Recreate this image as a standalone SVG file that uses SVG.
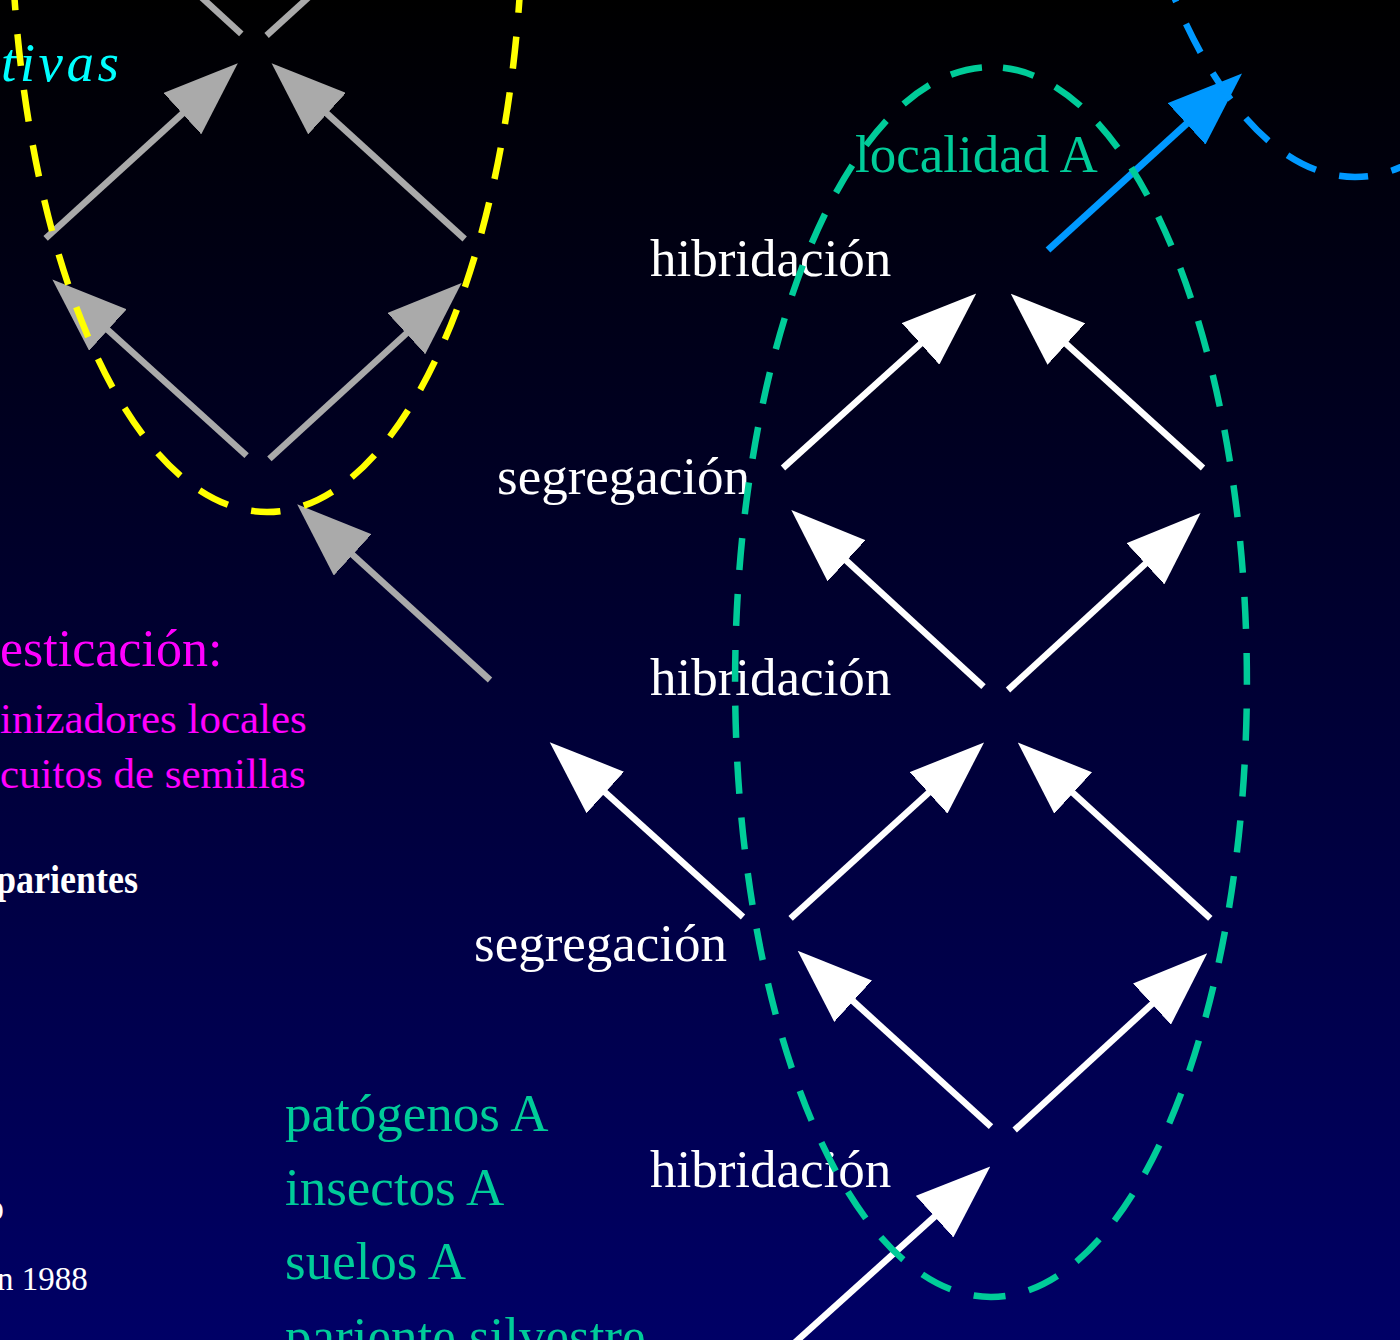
<svg xmlns="http://www.w3.org/2000/svg" width="1400" height="1340" viewBox="0 0 1400 1340">
<defs>
<linearGradient id="bg" x1="0" y1="0" x2="0" y2="1340" gradientUnits="userSpaceOnUse">
<stop offset="0" stop-color="#000000"/>
<stop offset="1" stop-color="#000066"/>
</linearGradient>
<marker id="hw" viewBox="0 -28 75 56" refX="1" refY="0" markerWidth="75" markerHeight="56" markerUnits="userSpaceOnUse" orient="auto"><path d="M0,-28 L75,0 L0,28 z" fill="#ffffff"/></marker>
<marker id="hg" viewBox="0 -28 75 56" refX="1" refY="0" markerWidth="75" markerHeight="56" markerUnits="userSpaceOnUse" orient="auto"><path d="M0,-28 L75,0 L0,28 z" fill="#aaaaaa"/></marker>
<marker id="hb" viewBox="0 -28 75 56" refX="1" refY="0" markerWidth="75" markerHeight="56" markerUnits="userSpaceOnUse" orient="auto"><path d="M0,-28 L75,0 L0,28 z" fill="#0099ff"/></marker>
<style>
.t{font-family:"Liberation Serif","Times New Roman",serif;}
.w{fill:#ffffff;}
.g{fill:#00cc99;}
.m{fill:#ff00ff;}
.lab{font-size:53px;fill:#ffffff;}
.aw{stroke:#ffffff;stroke-width:6.5;fill:none;marker-end:url(#hw);}
.ag{stroke:#aaaaaa;stroke-width:6.5;fill:none;marker-end:url(#hg);}
.agn{stroke:#aaaaaa;stroke-width:6.5;fill:none;}
.ab{stroke:#0099ff;stroke-width:7;fill:none;marker-end:url(#hb);}
.reg{fill:none;stroke-width:6.5;stroke-dasharray:32 24;}
</style>
</defs>
<rect x="0" y="0" width="1400" height="1340" fill="url(#bg)"/>

<g id="left-texts" class="t">
<text x="1" y="81" style="font-size:55px;font-style:italic;fill:#00ffff;letter-spacing:3.5px">tivas</text>
<text x="0" y="666" class="m" style="font-size:52px">esticación:</text>
<text x="0" y="733" class="m" style="font-size:43px">inizadores locales</text>
<text x="0" y="788" class="m" style="font-size:43px">cuitos de semillas</text>
<text x="-4" y="893" class="w" style="font-size:40px;font-weight:bold" textLength="142" lengthAdjust="spacingAndGlyphs">parientes</text>
<text x="-15" y="1220" class="w" style="font-size:38px">o</text>
<text x="-3" y="1290" class="w" style="font-size:33px">n 1988</text>
</g>

<g id="factors" class="t g" style="font-size:53px">
<text x="285" y="1131">patógenos A</text>
<text x="285" y="1205">insectos A</text>
<text x="285" y="1279">suelos A</text>
<text x="285" y="1354">pariente silvestre</text>
</g>

<g id="localidad-label" class="t g"><text x="855" y="172" style="font-size:53px">localidad A</text></g>

<g id="hibridacion-1" class="t lab"><text x="650" y="276">hibridación</text></g>
<g id="segregacion-1" class="t lab"><text x="497" y="494">segregación</text></g>
<g id="hibridacion-2" class="t lab"><text x="650" y="695">hibridación</text></g>
<g id="segregacion-2" class="t lab"><text x="474" y="961">segregación</text></g>
<g id="hibridacion-3" class="t lab"><text x="650" y="1187">hibridación</text></g>

<g id="connectors">
<line class="aw" x1="783" y1="468" x2="921.3" y2="343.2"/>
<line class="aw" x1="1203" y1="468" x2="1065.6" y2="343.4"/>
<line class="aw" x1="983.5" y1="686.7" x2="845.8" y2="560.1"/>
<line class="aw" x1="1008" y1="690" x2="1146.1" y2="563.1"/>
<line class="aw" x1="790.6" y1="918.3" x2="929.3" y2="792.2"/>
<line class="aw" x1="1210.3" y1="918.3" x2="1072.4" y2="792.3"/>
<line class="aw" x1="743" y1="917" x2="604.6" y2="791.8"/>
<line class="aw" x1="991" y1="1126.7" x2="852.4" y2="1000.5"/>
<line class="aw" x1="1014.7" y1="1130" x2="1152.7" y2="1003.4"/>
<line class="aw" x1="780" y1="1356" x2="935.3" y2="1216"/>
<line class="ag" x1="490" y1="680" x2="351.9" y2="554.2"/>
<line class="ag" x1="246.6" y1="455.7" x2="107.2" y2="329.3"/>
<line class="ag" x1="269.4" y1="458.8" x2="407" y2="332.9"/>
<line class="ag" x1="45.6" y1="238.3" x2="183.1" y2="113"/>
<line class="ag" x1="464.7" y1="239" x2="326.3" y2="113"/>
<line class="agn" x1="241.3" y1="33.8" x2="200" y2="-4"/>
<line class="agn" x1="266.6" y1="35.5" x2="310" y2="-4"/>
<line class="ab" x1="1048" y1="250" x2="1187.3" y2="123.2"/>
</g>

<g id="region-yellow"><path class="reg" stroke="#ffff00" stroke-dashoffset="16" d="M267,512 A256,615 0 0 1 267,-718 A256,615 0 0 1 267,512 Z"/></g>
<g id="region-localidad-A"><path class="reg" stroke="#00cc99" stroke-dashoffset="-12" d="M991,67 A256,615 0 0 1 991,1297 A256,615 0 0 1 991,67 Z"/></g>
<g id="region-blue"><path class="reg" stroke="#0099ff" stroke-dashoffset="16" d="M1355,177 A256,615 0 0 1 1355,-1053 A256,615 0 0 1 1355,177 Z"/></g>
</svg>
